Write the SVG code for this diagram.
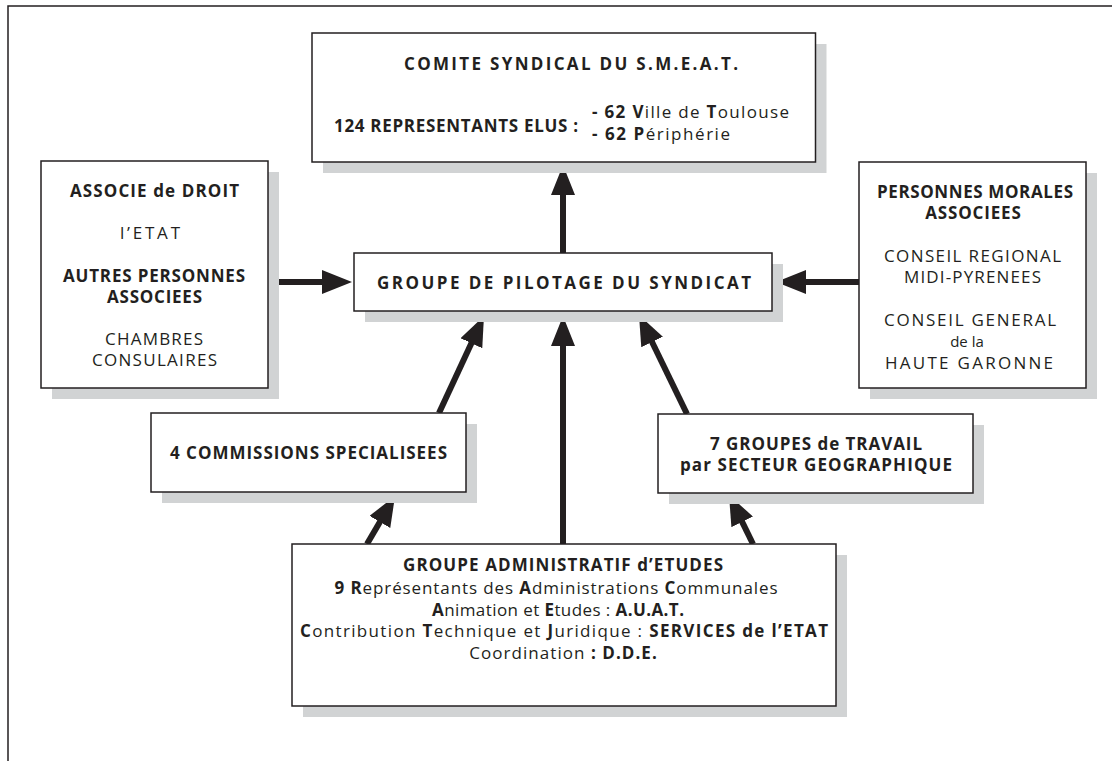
<svg xmlns="http://www.w3.org/2000/svg" width="1112" height="761" viewBox="0 0 1112 761">
<defs>
<style>
.sh{fill:#d1d3d4}
.box{fill:#fff;stroke:#231f20;stroke-width:1.5}
.t{font-family:"Open Sans","Liberation Sans",sans-serif;font-size:17px;fill:#231f20;text-anchor:middle}
.s{text-anchor:start}
.b{font-weight:700}
.c{fill:none;stroke:#231f20;stroke-width:6;marker-end:url(#ah)}
</style>
<marker id="ah" markerUnits="userSpaceOnUse" markerWidth="30" markerHeight="24" refX="2" refY="12" orient="auto" viewBox="0 0 30 24">
<path d="M0,0 L30,12 L0,24 Z" fill="#231f20"/>
</marker>
</defs>
<rect width="1112" height="761" fill="#fff"/>
<path d="M8,761 V6 H1112" fill="none" stroke="#231f20" stroke-width="1.5"/>

<g id="connectors">
<path class="c" d="M563,253 V193"/>
<path class="c" d="M268,282 H324"/>
<path class="c" d="M859,282 H804"/>
<path class="c" d="M563,544 V344"/>
<path class="c" d="M439,413 L472.2,341.4"/>
<path class="c" d="M687,414 L651.2,340.2"/>
<path class="c" d="M367,544 L380.9,520.2"/>
<path class="c" d="M753,544 L741.3,520.1"/>
</g>

<g id="comite">
<rect class="sh" x="323" y="44" width="503.5" height="129"/>
<rect class="box" x="312" y="33" width="503.5" height="129"/>
<text class="t b" x="571" y="70" textLength="334" lengthAdjust="spacing">COMITE SYNDICAL DU S.M.E.A.T.</text>
<text class="t s b" x="334" y="132" textLength="244" lengthAdjust="spacing">124 REPRESENTANTS ELUS :</text>
<text class="t s" x="592" y="117.5" textLength="197" lengthAdjust="spacing"><tspan class="b">- 62 V</tspan>ille de <tspan class="b">T</tspan>oulouse</text>
<text class="t s" x="592" y="139.5" textLength="138" lengthAdjust="spacing"><tspan class="b">- 62 P</tspan>ériphérie</text>
</g>

<g id="associe">
<rect class="sh" x="52" y="172" width="227" height="227"/>
<rect class="box" x="41" y="161" width="227" height="227"/>
<text class="t b" x="154.5" y="196.5" textLength="169" lengthAdjust="spacing">ASSOCIE de DROIT</text>
<text class="t" x="150" y="239" textLength="60" lengthAdjust="spacing">l’ETAT</text>
<text class="t b" x="154" y="281.5" textLength="182" lengthAdjust="spacing">AUTRES PERSONNES</text>
<text class="t b" x="154.5" y="302.5" textLength="95" lengthAdjust="spacing">ASSOCIEES</text>
<text class="t" x="154" y="345" textLength="98" lengthAdjust="spacing">CHAMBRES</text>
<text class="t" x="154.5" y="366" textLength="125" lengthAdjust="spacing">CONSULAIRES</text>
</g>

<g id="morales">
<rect class="sh" x="870" y="173" width="227" height="226"/>
<rect class="box" x="859" y="162" width="227" height="226"/>
<text class="t b" x="975" y="197.5" textLength="196" lengthAdjust="spacing">PERSONNES MORALES</text>
<text class="t b" x="973" y="218.5" textLength="95.7" lengthAdjust="spacing">ASSOCIEES</text>
<text class="t" x="972.5" y="262" textLength="177" lengthAdjust="spacing">CONSEIL REGIONAL</text>
<text class="t" x="972.5" y="283" textLength="137" lengthAdjust="spacing">MIDI-PYRENEES</text>
<text class="t" x="970" y="325.5" textLength="172" lengthAdjust="spacing">CONSEIL GENERAL</text>
<text class="t" x="967" y="346.5" style="font-size:15px">de la</text>
<text class="t" x="969" y="368.5" textLength="168" lengthAdjust="spacing">HAUTE GARONNE</text>
</g>

<g id="pilotage">
<rect class="sh" x="365" y="264" width="418" height="58"/>
<rect class="box" x="354" y="253" width="418" height="58"/>
<text class="t b" x="564" y="288.5" textLength="374" lengthAdjust="spacing">GROUPE DE PILOTAGE DU SYNDICAT</text>
</g>

<g id="commissions">
<rect class="sh" x="162" y="424" width="315" height="79"/>
<rect class="box" x="151" y="413" width="315" height="79"/>
<text class="t b" x="308.5" y="459" textLength="277" lengthAdjust="spacing">4 COMMISSIONS SPECIALISEES</text>
</g>

<g id="groupes">
<rect class="sh" x="669" y="425" width="315" height="79"/>
<rect class="box" x="658" y="414" width="315" height="79"/>
<text class="t b" x="816" y="450" textLength="212" lengthAdjust="spacing">7 GROUPES de TRAVAIL</text>
<text class="t b" x="816" y="471" textLength="272" lengthAdjust="spacing">par SECTEUR GEOGRAPHIQUE</text>
</g>

<g id="administratif">
<rect class="sh" x="303" y="555" width="544" height="162"/>
<rect class="box" x="292" y="544" width="544" height="162"/>
<text class="t b" x="563" y="571" textLength="320" lengthAdjust="spacing">GROUPE ADMINISTRATIF d’ETUDES</text>
<text class="t" x="556" y="593.5" textLength="443" lengthAdjust="spacing"><tspan class="b">9 R</tspan>eprésentants des <tspan class="b">A</tspan>dministrations <tspan class="b">C</tspan>ommunales</text>
<text class="t" x="558" y="615.5" textLength="252" lengthAdjust="spacing"><tspan class="b">A</tspan>nimation et <tspan class="b">E</tspan>tudes : <tspan class="b">A.U.A.T.</tspan></text>
<text class="t" x="564" y="637" textLength="528" lengthAdjust="spacing"><tspan class="b">C</tspan>ontribution <tspan class="b">T</tspan>echnique et <tspan class="b">J</tspan>uridique : <tspan class="b">SERVICES de l’ETAT</tspan></text>
<text class="t" x="563" y="658.5" textLength="187.5" lengthAdjust="spacing">Coordination <tspan class="b">: D.D.E.</tspan></text>
</g>
</svg>
